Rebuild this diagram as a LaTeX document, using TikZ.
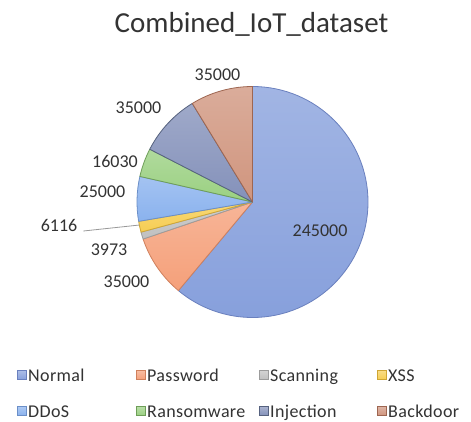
\documentclass[tikz,border=0pt]{standalone}
\usepackage{fontspec}
\setmainfont{Carlito}
\newfontfamily\legendfont[LetterSpace=2]{Carlito}

% slice colours (fill, edge)
\definecolor{cNormal}{HTML}{87A0DC}
\definecolor{eNormal}{HTML}{6A80BE}
\definecolor{cPassword}{HTML}{F5A07A}
\definecolor{ePassword}{HTML}{D0805C}
\definecolor{cScanning}{HTML}{C0C0C0}
\definecolor{eScanning}{HTML}{9C9C9C}
\definecolor{cXSS}{HTML}{F6CD52}
\definecolor{eXSS}{HTML}{CFA634}
\definecolor{cDDoS}{HTML}{8AB2EE}
\definecolor{eDDoS}{HTML}{6B8FC8}
\definecolor{cRansom}{HTML}{9AD081}
\definecolor{eRansom}{HTML}{6E9E58}
\definecolor{cInjection}{HTML}{8491BA}
\definecolor{eInjection}{HTML}{56627F}
\definecolor{cBackdoor}{HTML}{D0957E}
\definecolor{eBackdoor}{HTML}{9E6651}
\definecolor{labeltext}{HTML}{333333}

\tikzset{
  valuelabel/.style={font=\fontsize{18}{18}\selectfont, text=labeltext, inner sep=0pt, anchor=base},
  legendtext/.style={font=\fontsize{18}{18}\selectfont\legendfont, text=labeltext, inner sep=0pt, anchor=base west},
  leader/.style={draw=black!40, line width=0.8pt},
}

% one pie slice: start angle, end angle, colour name suffix
\newcommand\pieslice[3]{%
  \shade[top color=c#3!78!white, bottom color=c#3]
    (c) -- ([shift={(c)}]#1:\R) arc[start angle=#1, end angle=#2, radius=\R] -- cycle;
  \draw[e#3, line width=0.8pt, line join=round]
    (c) -- ([shift={(c)}]#1:\R) arc[start angle=#1, end angle=#2, radius=\R] -- cycle;
}

% one legend entry: x of swatch, baseline y, colour name suffix, text, node name
\newcommand\legendentry[5]{%
  \shade[top color=c#3!70!white, bottom color=c#3, draw=e#3, line width=0.5pt]
    (#1,#2+1.5) rectangle ++(9,9);
  \node[legendtext] (#5) at (#1+11,#2) {#4};
}

\begin{document}
\begin{tikzpicture}[x=1pt,y=1pt]
\useasboundingbox (0,0) rectangle (471,421);
\fill[white] (0,0) rectangle (471,421);

\node[font=\fontsize{29}{29}\selectfont, text=black!80, inner sep=0pt, anchor=base] (title)
  at (251.5,388) {Combined\_IoT\_dataset};

\coordinate (c) at (252.5,219);
\def\R{115.5}

\pieslice{90}{-129.885}{Normal}
\pieslice{-129.885}{-161.297}{Password}
\pieslice{-161.297}{-164.863}{Scanning}
\pieslice{-164.863}{-170.352}{XSS}
\pieslice{-170.352}{-192.789}{DDoS}
\pieslice{-192.789}{-207.176}{Ransom}
\pieslice{-207.176}{-238.588}{Injection}
\pieslice{-238.588}{-270}{Backdoor}

% value labels
\node[valuelabel] (lNormal)   at (320,185)   {245000};
\node[valuelabel] (lPassword) at (126.5,134) {35000};
\node[valuelabel] (lScanning) at (109,166)   {3973};
\node[valuelabel] (lXSS)      at (59,190)    {6116};
\node[valuelabel] (lDDoS)     at (102.5,224) {25000};
\node[valuelabel] (lRansom)   at (115,254)   {16030};
\node[valuelabel] (lInjection) at (138.5,307) {35000};
\node[valuelabel] (lBackdoor) at (217.5,340) {35000};

% leader line for the narrow XSS slice
\coordinate (xssedge) at ([shift={(c)}]-168.5:\R);
\draw[leader] ([xshift=6pt]lXSS.base east) -- (xssedge);

% legend
\legendentry{17}{40}{Normal}{Normal}{gNormal}
\legendentry{136}{40}{Password}{Password}{gPassword}
\legendentry{259}{40}{Scanning}{Scanning}{gScanning}
\legendentry{377}{40}{XSS}{XSS}{gXSS}
\legendentry{17}{4}{DDoS}{DDoS}{gDDoS}
\legendentry{136}{4}{Ransom}{Ransomware}{gRansom}
\legendentry{259}{4}{Injection}{Injection}{gInjection}
\legendentry{377}{4}{Backdoor}{Backdoor}{gBackdoor}
\end{tikzpicture}
\end{document}
